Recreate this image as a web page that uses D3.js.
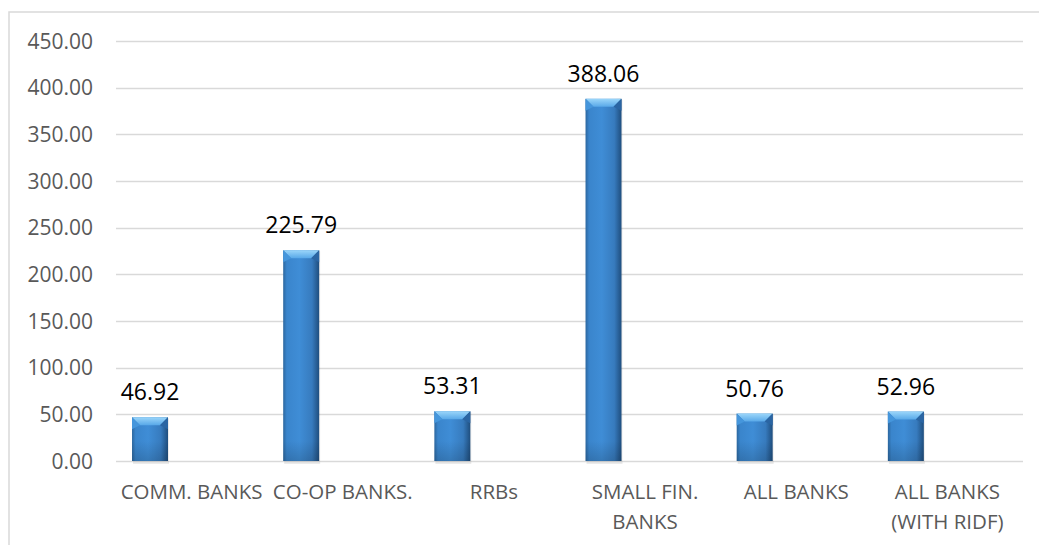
<!DOCTYPE html>
<html><head><meta charset="utf-8">
<script src="https://cdn.jsdelivr.net/npm/d3@7"></script>
<style>body{margin:0;background:#fff}svg{display:block}</style>
</head><body>
<svg id="chart" width="1039" height="545"></svg>
<script>
const categories = ["COMM. BANKS", "CO-OP BANKS.", "RRBs", "SMALL FIN. BANKS", "ALL BANKS", "ALL BANKS (WITH RIDF)"];
const categoryLines = [["COMM. BANKS"], ["CO-OP BANKS."], ["RRBs"], ["SMALL FIN.", "BANKS"], ["ALL BANKS"], ["ALL BANKS", "(WITH RIDF)"]];
const values = [46.92, 225.79, 53.31, 388.06, 50.76, 52.96];
const valueLabels = ["46.92", "225.79", "53.31", "388.06", "50.76", "52.96"];
const yTicks = [0, 50, 100, 150, 200, 250, 300, 350, 400, 450];

const svg = d3.select("#chart");
const FONT = "'Open Sans', 'Liberation Sans', sans-serif";

// outer border
svg.append("rect").attr("x", 9).attr("y", 12).attr("width", 1040).attr("height", 545)
  .attr("fill", "none").attr("stroke", "#d9d9d9").attr("stroke-width", 1.5);

const x = d3.scaleBand().domain(categories).range([116, 1023]).padding(0);
const y = d3.scaleLinear().domain([0, 450]).range([461, 41]);

const defs = svg.append("defs");
const g1 = defs.append("linearGradient").attr("id", "body").attr("x1", "0").attr("x2", "1").attr("y1", "0").attr("y2", "0");
[["0%", "#2c679f"], ["10%", "#3a85cc"], ["45%", "#3f8dd6"], ["80%", "#377bbe"], ["100%", "#1f4e7e"]]
  .forEach(([o, c]) => g1.append("stop").attr("offset", o).attr("stop-color", c));
const g2 = defs.append("linearGradient").attr("id", "top").attr("x1", "0").attr("x2", "0").attr("y1", "0").attr("y2", "1");
[["0%", "#9bd6fa"], ["100%", "#58a8e8"]].forEach(([o, c]) => g2.append("stop").attr("offset", o).attr("stop-color", c));
const g3 = defs.append("linearGradient").attr("id", "bottom").attr("x1", "0").attr("x2", "0").attr("y1", "0").attr("y2", "1");
[["0%", "#000", 0], ["100%", "#000", 0.15]].forEach(([o, c, a]) => g3.append("stop").attr("offset", o).attr("stop-color", c).attr("stop-opacity", a));

// gridlines
svg.append("g").selectAll("line").data(yTicks).join("line")
  .attr("x1", 116).attr("x2", 1023)
  .attr("y1", d => Math.round(y(d)) + 0.5).attr("y2", d => Math.round(y(d)) + 0.5)
  .attr("stroke", "#d9d9d9").attr("stroke-width", 1.5);

// y tick labels
svg.append("g").selectAll("text").data(yTicks).join("text")
  .attr("x", 93).attr("y", d => y(d)).attr("dy", "0.36em")
  .attr("text-anchor", "end").attr("font-family", FONT).attr("font-size", 21)
  .attr("fill", "#595959").text(d => d.toFixed(2));

const bw = x.bandwidth() * 0.238;
const off = x.bandwidth() * 0.106;
const bev = 8;

const bars = svg.append("g").selectAll("g").data(categories).join("g");
bars.each(function(c, i) {
  const g = d3.select(this);
  const x0 = x(c) + off, x1 = x0 + bw;
  const y0 = y(values[i]), y1 = y(0);
  g.append("rect").attr("x", x0 + 1).attr("y", y0 + 1).attr("width", bw).attr("height", y1 - y0 + 2)
    .attr("fill", "#000").attr("opacity", 0.08);
  g.append("rect").attr("x", x0).attr("y", y0).attr("width", bw).attr("height", y1 - y0).attr("fill", "url(#body)");
  g.append("rect").attr("x", x0).attr("y", Math.max(y0, y1 - 20)).attr("width", bw).attr("height", Math.min(20, y1 - y0)).attr("fill", "url(#bottom)");
  g.append("polygon").attr("points", [[x0, y0], [x1, y0], [x1 - bev, y0 + bev], [x0 + bev, y0 + bev]].join(" "))
    .attr("fill", "url(#top)");
  g.append("polygon").attr("points", [[x0, y0], [x0 + bev, y0 + bev], [x0, y0 + bev + 4]].join(" "))
    .attr("fill", "#4596dc");
  g.append("polygon").attr("points", [[x1, y0], [x1 - bev, y0 + bev], [x1, y0 + bev + 4]].join(" "))
    .attr("fill", "#2a65a3");
});

// value labels
svg.append("g").selectAll("text").data(categories).join("text")
  .attr("x", (c) => x(c) + off + bw / 2)
  .attr("y", (c, i) => y(values[i]) - 17)
  .attr("text-anchor", "middle").attr("font-family", FONT).attr("font-size", 23)
  .attr("fill", "#000").text((c, i) => valueLabels[i]);

// category labels
const cl = svg.append("g").selectAll("text").data(categories).join("text")
  .attr("text-anchor", "middle").attr("font-family", FONT).attr("font-size", 20.5)
  .attr("fill", "#595959");
cl.each(function(c, i) {
  const t = d3.select(this);
  categoryLines[i].forEach((line, j) => {
    t.append("tspan").attr("x", x(c) + x.bandwidth() / 2).attr("y", 499 + j * 30).text(line);
  });
});
</script>
</body></html>
